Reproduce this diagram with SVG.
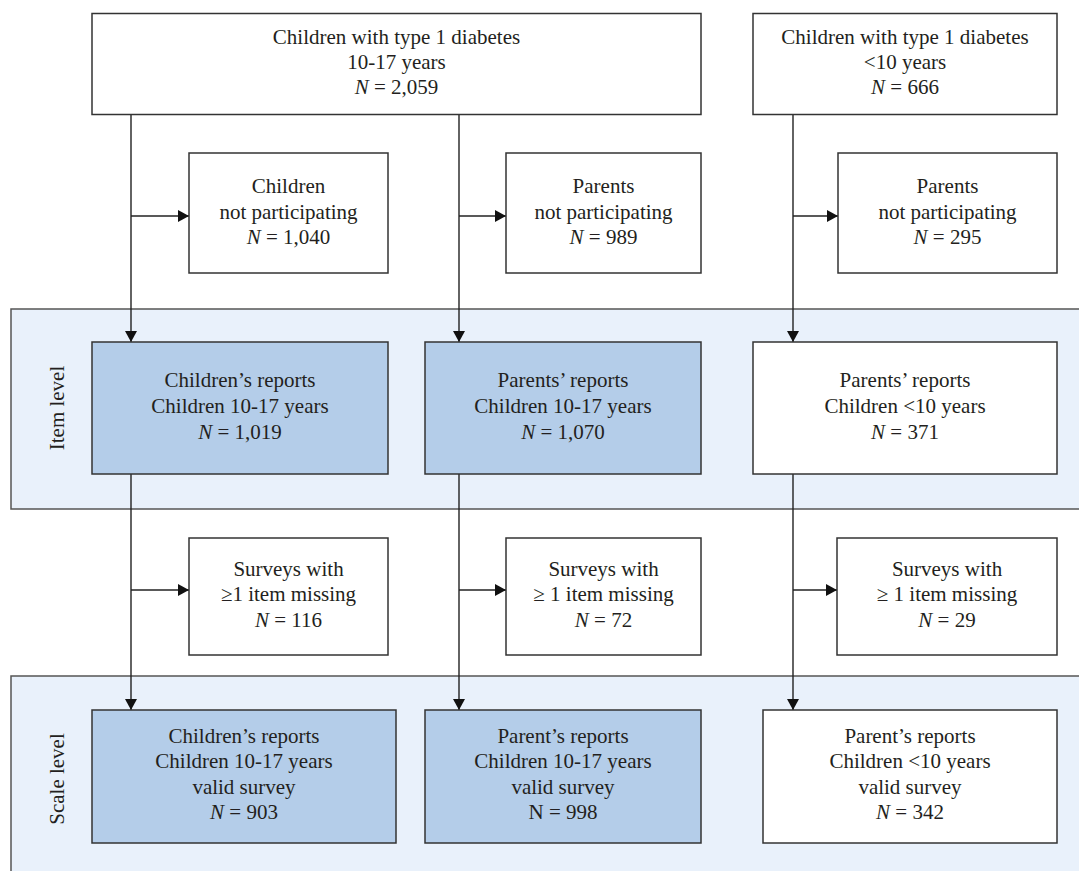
<svg xmlns="http://www.w3.org/2000/svg" width="1079" height="871" viewBox="0 0 1079 871">
<defs>
<style>
text{font-family:"Liberation Serif","Times New Roman",serif;font-size:21px;fill:#231f20;text-anchor:middle}
.it{font-style:italic}
.box{fill:#ffffff;stroke:#333333;stroke-width:1.5}
.blue{fill:#b4cde9;stroke:#333333;stroke-width:1.5}
.band{fill:#e9f1fb;stroke:#555555;stroke-width:1.5}
.ln{fill:none;stroke:#222222;stroke-width:1.4}
</style>
<marker id="ah" viewBox="0 0 11 12" refX="11" refY="6" markerWidth="11" markerHeight="12" markerUnits="userSpaceOnUse" orient="auto">
<path d="M0,0 L11,6 L0,12 Z" fill="#111111"/>
</marker>
</defs>
<rect width="1079" height="871" fill="#ffffff"/>
<g id="band-item">
<rect class="band" x="11" y="309" width="1080" height="200"/>
<text transform="translate(64,408) rotate(-90)">Item level</text>
</g>
<g id="band-scale">
<rect class="band" x="11" y="676" width="1080" height="210"/>
<text transform="translate(64,779) rotate(-90)">Scale level</text>
</g>
<g id="connectors">
<line class="ln" x1="131" y1="115" x2="131" y2="342" marker-end="url(#ah)"/>
<line class="ln" x1="459" y1="115" x2="459" y2="342" marker-end="url(#ah)"/>
<line class="ln" x1="793" y1="115" x2="793" y2="342" marker-end="url(#ah)"/>
<line class="ln" x1="131" y1="474" x2="131" y2="710" marker-end="url(#ah)"/>
<line class="ln" x1="459" y1="474" x2="459" y2="710" marker-end="url(#ah)"/>
<line class="ln" x1="793" y1="474" x2="793" y2="710" marker-end="url(#ah)"/>
<line class="ln" x1="131" y1="216" x2="189" y2="216" marker-end="url(#ah)"/>
<line class="ln" x1="459" y1="216" x2="506" y2="216" marker-end="url(#ah)"/>
<line class="ln" x1="793" y1="216" x2="838" y2="216" marker-end="url(#ah)"/>
<line class="ln" x1="131" y1="590" x2="189" y2="590" marker-end="url(#ah)"/>
<line class="ln" x1="459" y1="590" x2="506" y2="590" marker-end="url(#ah)"/>
<line class="ln" x1="793" y1="590" x2="837" y2="590" marker-end="url(#ah)"/>
</g>
<g id="top-1017">
<rect class="box" x="92" y="13.5" width="609" height="101"/>
<text x="396.5" y="44">Children with type 1 diabetes</text>
<text x="396.5" y="69">10-17 years</text>
<text x="396.5" y="94"><tspan class="it">N</tspan> = 2,059</text>
</g>
<g id="top-under10">
<rect class="box" x="753" y="13.5" width="304" height="101"/>
<text x="905" y="44">Children with type 1 diabetes</text>
<text x="905" y="69">&lt;10 years</text>
<text x="905" y="94"><tspan class="it">N</tspan> = 666</text>
</g>
<g id="children-not-participating">
<rect class="box" x="189" y="153" width="199" height="120"/>
<text x="288.5" y="193">Children</text>
<text x="288.5" y="218.5">not participating</text>
<text x="288.5" y="244"><tspan class="it">N</tspan> = 1,040</text>
</g>
<g id="parents-not-participating-1017">
<rect class="box" x="506" y="153" width="195" height="120"/>
<text x="603.5" y="193">Parents</text>
<text x="603.5" y="218.5">not participating</text>
<text x="603.5" y="244"><tspan class="it">N</tspan> = 989</text>
</g>
<g id="parents-not-participating-under10">
<rect class="box" x="838" y="153" width="219" height="120"/>
<text x="947.5" y="193">Parents</text>
<text x="947.5" y="218.5">not participating</text>
<text x="947.5" y="244"><tspan class="it">N</tspan> = 295</text>
</g>
<g id="children-reports-item">
<rect class="blue" x="92" y="342" width="296" height="132"/>
<text x="240" y="387">Children’s reports</text>
<text x="240" y="413">Children 10-17 years</text>
<text x="240" y="438.5"><tspan class="it">N</tspan> = 1,019</text>
</g>
<g id="parents-reports-item">
<rect class="blue" x="425" y="342" width="276" height="132"/>
<text x="563" y="387">Parents’ reports</text>
<text x="563" y="413">Children 10-17 years</text>
<text x="563" y="438.5"><tspan class="it">N</tspan> = 1,070</text>
</g>
<g id="parents-reports-under10-item">
<rect class="box" x="753" y="342" width="304" height="132"/>
<text x="905" y="387">Parents’ reports</text>
<text x="905" y="413">Children &lt;10 years</text>
<text x="905" y="438.5"><tspan class="it">N</tspan> = 371</text>
</g>
<g id="missing-children">
<rect class="box" x="189" y="538" width="199" height="117"/>
<text x="288.5" y="576">Surveys with</text>
<text x="288.5" y="601">≥1 item missing</text>
<text x="288.5" y="627"><tspan class="it">N</tspan> = 116</text>
</g>
<g id="missing-parents-1017">
<rect class="box" x="506" y="538" width="195" height="117"/>
<text x="603.5" y="576">Surveys with</text>
<text x="603.5" y="601">≥ 1 item missing</text>
<text x="603.5" y="627"><tspan class="it">N</tspan> = 72</text>
</g>
<g id="missing-parents-under10">
<rect class="box" x="837" y="538" width="220" height="117"/>
<text x="947" y="576">Surveys with</text>
<text x="947" y="601">≥ 1 item missing</text>
<text x="947" y="627"><tspan class="it">N</tspan> = 29</text>
</g>
<g id="children-reports-scale">
<rect class="blue" x="92" y="710" width="304" height="133"/>
<text x="244" y="743">Children’s reports</text>
<text x="244" y="768">Children 10-17 years</text>
<text x="244" y="793.5">valid survey</text>
<text x="244" y="819"><tspan class="it">N</tspan> = 903</text>
</g>
<g id="parents-reports-scale">
<rect class="blue" x="425" y="710" width="276" height="133"/>
<text x="563" y="743">Parent’s reports</text>
<text x="563" y="768">Children 10-17 years</text>
<text x="563" y="793.5">valid survey</text>
<text x="563" y="819">N = 998</text>
</g>
<g id="parents-reports-under10-scale">
<rect class="box" x="763" y="710" width="294" height="133"/>
<text x="910" y="743">Parent’s reports</text>
<text x="910" y="768">Children &lt;10 years</text>
<text x="910" y="793.5">valid survey</text>
<text x="910" y="819"><tspan class="it">N</tspan> = 342</text>
</g>
</svg>
